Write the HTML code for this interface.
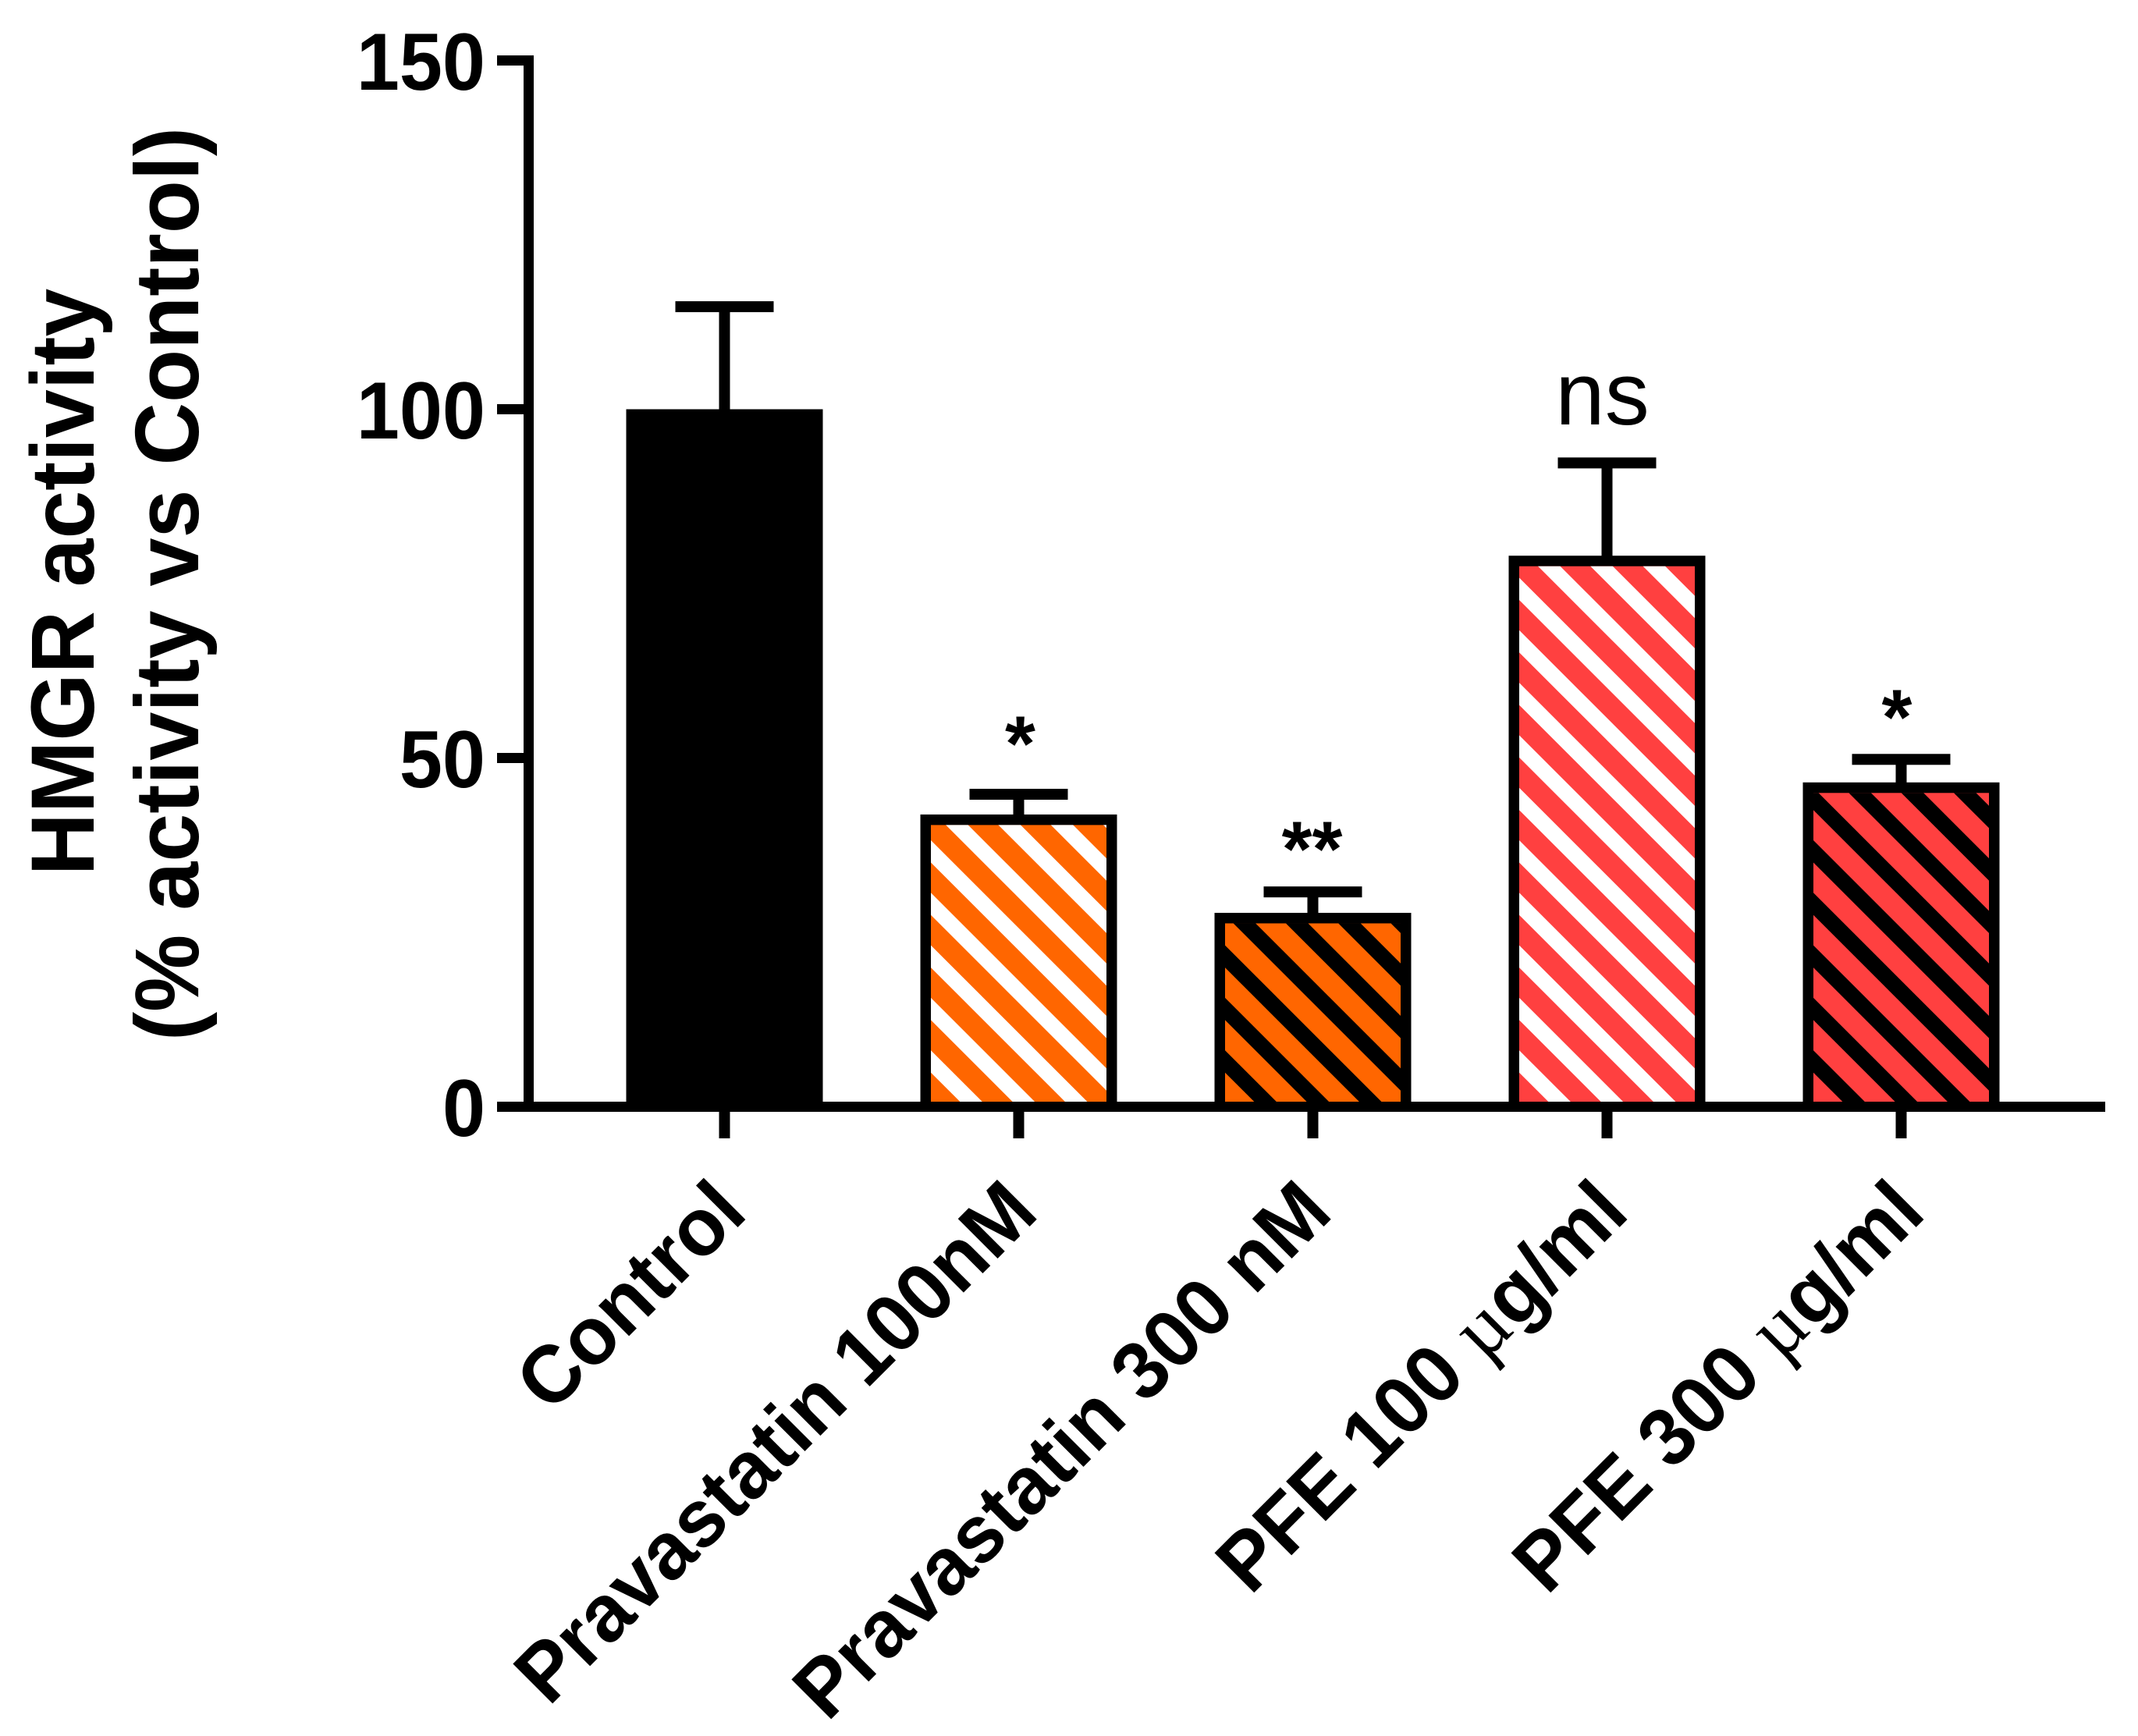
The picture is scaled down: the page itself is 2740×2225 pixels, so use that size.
<!DOCTYPE html>
<html lang="en">
<head>
<meta charset="utf-8">
<title>HMGR activity</title>
<style>
  html, body { margin: 0; padding: 0; background: #fff; }
  svg { display: block; }
  text { font-family: "Liberation Sans", Arial, sans-serif; fill: #000; }
</style>
</head>
<body>
<svg id="chart" xmlns="http://www.w3.org/2000/svg" width="2740" height="2225" viewBox="0 0 2740 2225">
  <rect width="2740" height="2225" fill="#fff"/>
  <g id="bars"></g>
  <g id="y-axis"></g>
  <g id="x-axis"></g>
  <g id="annotations"></g>
  <text transform="translate(120 746) rotate(-90) scale(1 1.04)" text-anchor="middle" font-size="111" font-weight="700">HMGR activity</text>
  <text transform="translate(254 748.5) rotate(-90) scale(1 1.04)" text-anchor="middle" font-size="111.5" font-weight="700">(% activity vs Control)</text>
</svg>
<script>
const categories = ["Control", "Pravastatin 100nM", "Pravastatin 300 nM", "PFE 100 \u00b5g/ml", "PFE 300 \u00b5g/ml"];
const means = [100, 41.9, 27.8, 79, 46.5];
const errors = [14.7, 2.9, 3.0, 13.3, 3.3];
const significance = ["", "*", "**", "ns", "*"];
const significanceLevels = [0, 55.6, 40.5, 97.8, 59.4];
const yTicks = [0, 50, 100, 150];

const NS = "http://www.w3.org/2000/svg";
const barStyles = [
  { fill: "#000000", stripe: null },
  { fill: "#FF6600", stripe: "#FFFFFF" },
  { fill: "#FF6600", stripe: "#000000" },
  { fill: "#FF4040", stripe: "#FFFFFF" },
  { fill: "#FF4040", stripe: "#000000" }
];

function yScale(v) { return 1418.5 - v * 8.94; }
function xScale(i) { return 928.5 + i * 377; }

function make(tag, attrs, parent) {
  const el = document.createElementNS(NS, tag);
  for (const k in attrs) el.setAttribute(k, attrs[k]);
  parent.appendChild(el);
  return el;
}

const svg = document.getElementById("chart");
const defs = make("defs", {}, svg);
const barsG = document.getElementById("bars");
const yG = document.getElementById("y-axis");
const xG = document.getElementById("x-axis");
const annG = document.getElementById("annotations");

const BAR_W = 252, STROKE = 13.5, CAP_W = 126, PERIOD = 67.3, STRIPE_V = 28.5;
const axisBottom = 1412;

categories.forEach(function (cat, i) {
  const cx = xScale(i);
  const top = yScale(means[i]);
  const errTop = yScale(means[i] + errors[i]);
  const left = cx - BAR_W / 2;
  const st = barStyles[i];

  const stem = make("rect", { x: cx - 7, y: errTop, width: 14, height: top - errTop + 2, fill: "#000" }, barsG);
  
  

  const cap = make("rect", { x: cx - CAP_W / 2, y: errTop - 7, width: CAP_W, height: 14, fill: "#000" }, barsG);
  
  

  const innerX = left + STROKE, innerY = top + STROKE;
  const innerW = BAR_W - 2 * STROKE, innerH = Math.max(0, axisBottom - innerY);

  const clip = make("clipPath", { id: "bar-clip-" + i }, defs);
  make("rect", { x: innerX, y: innerY, width: innerW, height: innerH }, clip);

  const fill = make("rect", { x: left, y: top, width: BAR_W, height: axisBottom - top + 2, fill: "#000" }, barsG);
  
  

  const inner = make("rect", { x: innerX, y: innerY, width: innerW, height: innerH, fill: st.fill }, barsG);
  
  

  if (st.stripe) {
    const hatch = make("g", { "clip-path": "url(#bar-clip-" + i + ")" }, barsG);
    
    
    const kMin = -Math.ceil((innerH + innerW) / PERIOD) - 2;
    for (let k = kMin; k <= 1; k++) {
      const yc = axisBottom + 1.5 + k * PERIOD + STRIPE_V / 2;
      make("line", {
        x1: innerX - 20, y1: yc - 20,
        x2: innerX + innerW + 20, y2: yc + innerW + 20,
        stroke: st.stripe, "stroke-width": STRIPE_V / Math.SQRT2
      }, hatch);
    }
  }

  const tick = make("rect", { x: cx - 7, y: 1425, width: 14, height: 34, fill: "#000" }, xG);
  
  

  const labelShift = [4, 0, 0, 3, 6][i];
  const label = make("text", {
    transform: "translate(" + (cx + 28 + labelShift) + " 1558) rotate(-45) scale(1 1.03)",
    "text-anchor": "end", "font-size": 101.5, "font-weight": 700
  }, xG);
  
  
  const parts = cat.split("\u00b5");
  if (parts.length === 2) {
    label.appendChild(document.createTextNode(parts[0]));
    const mu = make("tspan", { "font-family": "'Liberation Serif', serif", "font-weight": 400, "font-style": "normal" }, label);
    mu.textContent = "\u00b5";
    label.appendChild(document.createTextNode(parts[1]));
  } else {
    label.textContent = cat;
  }

  if (significance[i]) {
    const isNs = significance[i] === "ns";
    const ann = make("text", {
      x: cx + [0, 2, -1, -6, -5.5][i],
      y: yScale(significanceLevels[i]) + (isNs ? 0 : 66),
      "text-anchor": "middle",
      "font-size": isNs ? 114 : 100,
      "font-weight": isNs ? 400 : 700
    }, annG);
    
    
    ann.textContent = significance[i];
  }
});

const yLine = make("rect", { x: 671, y: 71, width: 13, height: 1354, fill: "#000" }, yG);



const xLine = make("rect", { x: 637, y: 1412, width: 2061, height: 13, fill: "#000" }, xG);



yTicks.forEach(function (t) {
  const y = yScale(t);
  const tick = make("rect", { x: 637, y: y - 6.5, width: 40, height: 13, fill: "#000" }, yG);
  
  
  const label = make("text", {
    transform: "translate(622 " + (y + 37.5) + ") scale(1 1.05)",
    "text-anchor": "end", "font-size": 99, "font-weight": 700
  }, yG);
  
  
  label.textContent = String(t);
});
</script>
</body>
</html>
